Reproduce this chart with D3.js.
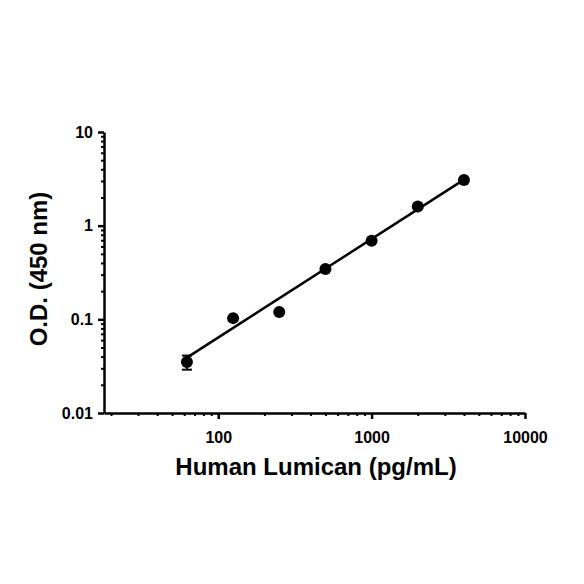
<!DOCTYPE html>
<html>
<head>
<meta charset="utf-8">
<script src="https://cdn.jsdelivr.net/npm/d3@7"></script>
<style>
  body { margin: 0; background: #fff; }
</style>
</head>
<body>
<div id="chart"></div>
<script>
// standard curve data
const concentrations = [62.5, 125, 250, 500, 1000, 2000, 4000];
const od_values = [0.035, 0.103, 0.12, 0.345, 0.69, 1.6, 3.07];
const od_err_low = [0.029, 0.103, 0.12, 0.345, 0.69, 1.6, 3.07];
const od_err_high = [0.041, 0.103, 0.12, 0.345, 0.69, 1.6, 3.07];

// fitted line end points
const fit_x = [62.5, 4000];
const fit_y = [0.039, 3.1];

const x_ticks = [100, 1000, 10000];
const x_tick_labels = ['100', '1000', '10000'];
const y_ticks = [0.01, 0.1, 1, 10];
const y_tick_labels = ['0.01', '0.1', '1', '10'];

const chart_width = 584;
const chart_height = 584;
const margin = {top: 132, right: 59, bottom: 171, left: 104};

const svg = d3.select('#chart')
    .append('svg')
    .attr('width', chart_width)
    .attr('height', chart_height);

const x_scale = d3.scaleLog()
    .domain([18, 10000])
    .range([margin.left, chart_width - margin.right]);

const y_scale = d3.scaleLog()
    .domain([0.01, 10])
    .range([chart_height - margin.bottom, margin.top]);

// minor ticks 2..9 of each decade
const x_minor = [];
[10, 100, 1000].forEach(d => {
    for (let k = 2; k <= 9; k++) if (d * k >= 18) x_minor.push(d * k);
});
const y_minor = [];
[0.01, 0.1, 1].forEach(d => {
    for (let k = 2; k <= 9; k++) y_minor.push(d * k);
});

// x axis
svg.append('g')
    .attr('transform', `translate(0,${chart_height - margin.bottom})`)
    .call(d3.axisBottom(x_scale).tickValues(x_minor).tickFormat('').tickSize(3).tickSizeOuter(0))
    .call(g => g.select('.domain').remove())
    .call(g => g.selectAll('line').attr('stroke-width', 2));

const x_axis = svg.append('g')
    .attr('transform', `translate(0,${chart_height - margin.bottom})`)
    .call(d3.axisBottom(x_scale)
        .tickValues(x_ticks)
        .tickFormat((d, i) => x_tick_labels[i])
        .tickSize(6)
        .tickSizeOuter(0)
        .tickPadding(13));

// y axis
svg.append('g')
    .attr('transform', `translate(${margin.left},0)`)
    .call(d3.axisLeft(y_scale).tickValues(y_minor).tickFormat('').tickSize(3).tickSizeOuter(0))
    .call(g => g.select('.domain').remove())
    .call(g => g.selectAll('line').attr('stroke-width', 2));

const y_axis = svg.append('g')
    .attr('transform', `translate(${margin.left},0)`)
    .call(d3.axisLeft(y_scale)
        .tickValues(y_ticks)
        .tickFormat((d, i) => y_tick_labels[i])
        .tickSize(6)
        .tickSizeOuter(0)
        .tickPadding(5));

[x_axis, y_axis].forEach(ax => {
    ax.select('.domain').attr('stroke', '#000').attr('stroke-width', 2.5);
    ax.selectAll('.tick line').attr('stroke', '#000').attr('stroke-width', 2.5);
    ax.selectAll('.tick text')
        .attr('fill', '#000')
        .attr('font-family', 'Liberation Sans, Arial, sans-serif')
        .attr('font-size', 16)
        .attr('font-weight', 'bold');
});

// fitted line
const line = d3.line()
    .x(d => x_scale(d[0]))
    .y(d => y_scale(d[1]));

svg.append('path')
    .datum(fit_x.map((d, i) => [d, fit_y[i]]))
    .attr('d', line)
    .attr('fill', 'none')
    .attr('stroke', '#000')
    .attr('stroke-width', 2.5);

// error bars
const err = svg.selectAll('.err')
    .data(concentrations)
    .enter()
    .append('g')
    .attr('class', 'err');

err.append('line')
    .attr('x1', d => x_scale(d))
    .attr('x2', d => x_scale(d))
    .attr('y1', (d, i) => y_scale(od_err_low[i]))
    .attr('y2', (d, i) => y_scale(od_err_high[i]))
    .attr('stroke', '#000')
    .attr('stroke-width', 2);

[od_err_low, od_err_high].forEach(arr => {
    err.append('line')
        .attr('x1', d => x_scale(d) - 5)
        .attr('x2', d => x_scale(d) + 5)
        .attr('y1', (d, i) => y_scale(arr[i]))
        .attr('y2', (d, i) => y_scale(arr[i]))
        .attr('stroke', '#000')
        .attr('stroke-width', 2);
});

// points
svg.selectAll('circle')
    .data(concentrations)
    .enter()
    .append('circle')
    .attr('cx', d => x_scale(d))
    .attr('cy', (d, i) => y_scale(od_values[i]))
    .attr('r', 6)
    .attr('fill', '#000');

// axis titles
svg.append('text')
    .text('Human Lumican (pg/mL)')
    .attr('x', 316)
    .attr('y', 475)
    .attr('text-anchor', 'middle')
    .attr('font-family', 'Liberation Sans, Arial, sans-serif')
    .attr('font-size', 24)
    .attr('font-weight', 'bold')
    .attr('fill', '#000');

svg.append('text')
    .text('O.D. (450 nm)')
    .attr('transform', 'translate(47,269) rotate(-90)')
    .attr('text-anchor', 'middle')
    .attr('font-family', 'Liberation Sans, Arial, sans-serif')
    .attr('font-size', 24)
    .attr('font-weight', 'bold')
    .attr('fill', '#000');
</script>
</body>
</html>
